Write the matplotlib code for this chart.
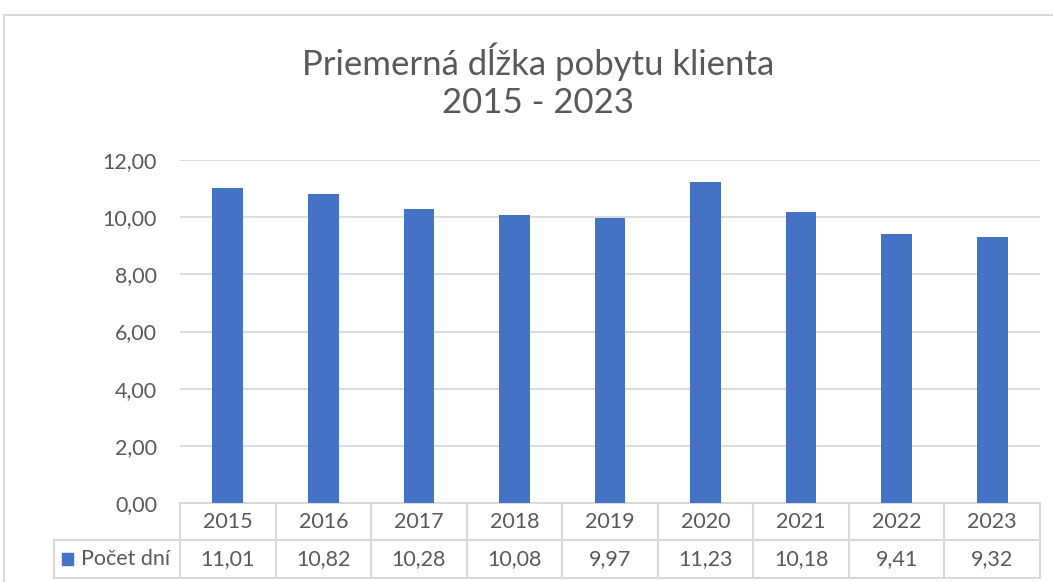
import matplotlib
matplotlib.use("Agg")
import matplotlib.pyplot as plt
from matplotlib.patches import Rectangle
from matplotlib.lines import Line2D
import matplotlib.transforms as mtransforms

years = ["2015", "2016", "2017", "2018", "2019", "2020", "2021", "2022", "2023"]
values = [11.01, 10.82, 10.28, 10.08, 9.97, 11.23, 10.18, 9.41, 9.32]
series_name = "Počet dní"
title_lines = ["Priemerná dĺžka pobytu klienta", "2015 - 2023"]
yticks = [0, 2, 4, 6, 8, 10, 12]

W, H = 1053, 582
plt.rcParams['font.family'] = ['Lato', 'DejaVu Sans']
fig = plt.figure(figsize=(W / 100, H / 100), dpi=100)

txt = "#595959"
grid = "#d9d9d9"
blue = "#4472c4"
fs = 15.5

# outer chart border
fig.patches.append(Rectangle((4 / W, 1 - 590 / H), (1070 - 4) / W, (590 - 15) / H,
                             transform=fig.transFigure, fill=False,
                             edgecolor="#d9d9d9", lw=1.5))

left, right, top, bottom = 180, 1040, 160, 503
ax = fig.add_axes([left / W, 1 - bottom / H, (right - left) / W, (bottom - top) / H])
n = len(years)
x = list(range(n))
ax.bar(x, values, width=0.32, color=blue, zorder=3)
ax.set_xlim(-0.5, n - 0.5)
ax.set_ylim(0, 12)
ax.set_yticks(yticks)
ax.set_yticklabels([f"{v:.2f}".replace(".", ",") for v in yticks], fontsize=fs, color=txt)
ax.tick_params(axis='y', length=0, pad=16.5)
ax.set_xticks([])
for s in ax.spines.values():
    s.set_visible(False)
ax.grid(axis='y', color=grid, lw=1.3, zorder=0)

# title
fig.text(538 / W, 1 - 62 / H, title_lines[0], ha='center', va='center', fontsize=25, color=txt)
fig.text(538 / W, 1 - 103 / H, title_lines[1], ha='center', va='center', fontsize=25, color=txt)

# data table
tr = mtransforms.blended_transform_factory(ax.transData, ax.transAxes)
h = bottom - top
def ay(py):
    return (bottom - py) / h
y0, y1, y2 = ay(503), ay(540), ay(578)
dpp = n / (right - left)
xl = -0.5 - (left - 54) * dpp
lc = grid
lw = 1.5
ax.add_line(Line2D([-0.5, n - 0.5], [y0, y0], transform=tr, color=lc, lw=lw, clip_on=False))
ax.add_line(Line2D([xl, n - 0.5], [y1, y1], transform=tr, color=lc, lw=lw, clip_on=False))
ax.add_line(Line2D([xl, n - 0.5], [y2, y2], transform=tr, color=lc, lw=lw, clip_on=False))
ax.add_line(Line2D([xl, xl], [y1, y2], transform=tr, color=lc, lw=lw, clip_on=False))
for i in range(n + 1):
    xb = i - 0.5
    ax.add_line(Line2D([xb, xb], [y0, y2], transform=tr, color=lc, lw=lw, clip_on=False))
for i in range(n):
    ax.text(i, (y0 + y1) / 2, years[i], transform=tr, ha='center', va='center',
            fontsize=fs, color=txt, clip_on=False)
    ax.text(i, (y1 + y2) / 2, f"{values[i]:.2f}".replace(".", ","), transform=tr,
            ha='center', va='center', fontsize=fs, color=txt, clip_on=False)
# legend key
fig.patches.append(Rectangle((62 / W, 1 - 565 / H), 11 / W, 12 / H,
                             transform=fig.transFigure, color=blue))
fig.text(81 / W, 1 - 559 / H, series_name, ha='left', va='center', fontsize=fs, color=txt)

fig.savefig("out.png", dpi=100)
